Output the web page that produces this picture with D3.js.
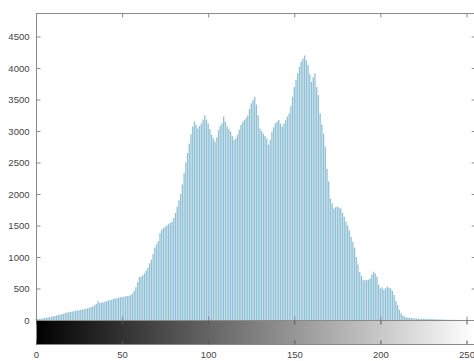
<!DOCTYPE html>
<html><head><meta charset="utf-8">
<script src="https://cdn.jsdelivr.net/npm/d3@7"></script>
<style>html,body{margin:0;padding:0;background:#fff;}svg{display:block;}</style>
</head><body>
<svg id="c" width="474" height="361"></svg>
<script>
// Histogram counts for gray levels 0..255
const counts = [
  12, 15, 18, 22, 26, 30, 35, 40, 46, 52,
  58, 65, 72, 80, 88, 92, 100, 110, 118, 124,
  128, 135, 140, 145, 150, 155, 160, 165, 170, 178,
  185, 195, 205, 215, 235, 255, 300, 270, 275, 280,
  290, 300, 310, 315, 320, 335, 345, 340, 355, 360,
  365, 370, 375, 380, 385, 395, 420, 460, 520, 600,
  680, 690, 710, 740, 780, 830, 900, 960, 1050, 1150,
  1200, 1250, 1380, 1430, 1460, 1480, 1500, 1520, 1540, 1560,
  1620, 1700, 1800, 1900, 2000, 2150, 2330, 2500, 2650, 2800,
  2950, 3070, 3150, 3100, 3040, 3080, 3120, 3180, 3250, 3180,
  3120, 3030, 2940, 2880, 2830, 2900, 3016, 3080, 3120, 3230,
  3150, 3070, 3030, 2990, 2920, 2860, 2880, 2940, 3020, 3095,
  3140, 3175, 3210, 3250, 3350, 3440, 3490, 3545, 3420, 3250,
  3040, 3000, 2960, 2920, 2880, 2780, 2860, 2990, 3060, 3120,
  3150, 3175, 3120, 3070, 3120, 3175, 3230, 3280, 3400, 3545,
  3700, 3810, 3920, 4020, 4100, 4150, 4200, 4120, 4050, 3900,
  3780, 3850, 3915, 3700, 3570, 3280, 3100, 2960, 2750, 2400,
  2200, 1930, 1850, 1770, 1790, 1800, 1785, 1770, 1700, 1640,
  1560, 1500, 1420, 1320, 1240, 1150, 1000, 880, 760, 700,
  640, 630, 635, 640, 660, 720, 767, 740, 690, 560,
  500, 520, 476, 510, 530, 510, 500, 460, 397, 300,
  238, 160, 106, 70, 52, 40, 37, 33, 30, 28,
  26, 24, 22, 20, 19, 18, 17, 16, 15, 14,
  13, 12, 11, 10, 9, 8, 7, 6, 5, 4,
  4, 3, 3, 2, 2, 2, 1, 1, 1, 1, 1, 0, 0, 0, 0, 0
];
const levels = d3.range(256);
const xTicks = [0, 50, 100, 150, 200, 250];
const yTicks = [0, 500, 1000, 1500, 2000, 2500, 3000, 3500, 4000, 4500];
const yMax = 4873;

const svg = d3.select("#c");
const L = 36, R = 36 + 255 * 1.722, T = 13, B = 320, CB = 344;
const x = d3.scaleLinear().domain([0, 255]).range([L, R]);
const y = d3.scaleLinear().domain([0, yMax]).range([B, T]);
const axisCol = "#8a8a8a", textCol = "#444";
const font = "Liberation Sans, Arial, sans-serif";
const fmt = d3.format("d");

// bars (stems)
svg.append("g").selectAll("rect").data(levels).join("rect")
  .attr("x", d => x(d) - 0.65)
  .attr("width", 1.3)
  .attr("y", d => y(counts[d]))
  .attr("height", d => B - y(counts[d]))
  .attr("fill", "#8fc0d5");

// main axes box
svg.append("rect").attr("x", L + 0.5).attr("y", T + 0.5)
  .attr("width", R - L).attr("height", B - T)
  .attr("fill", "none").attr("stroke", axisCol).attr("stroke-width", 1);

// y axis (left) with inward ticks
const yAxis = d3.axisLeft(y).tickValues(yTicks).tickFormat(fmt).tickSizeInner(-4).tickSizeOuter(0).tickPadding(7);
const gy = svg.append("g").attr("transform", `translate(${L + 0.5},0)`).call(yAxis);
gy.select(".domain").remove();
gy.selectAll("line").attr("stroke", axisCol);
gy.selectAll("text").attr("fill", textCol).style("font-family", font).style("font-size", "9.5px");

// right ticks
const gr = svg.append("g").attr("transform", `translate(${R + 0.5},0)`)
  .call(d3.axisRight(y).tickValues(yTicks).tickSizeInner(-4).tickSizeOuter(0).tickFormat(""));
gr.select(".domain").remove();
gr.selectAll("line").attr("stroke", axisCol);

// top ticks
const gt = svg.append("g").attr("transform", `translate(0,${T + 0.5})`)
  .call(d3.axisTop(x).tickValues(xTicks).tickSizeInner(-4).tickSizeOuter(0).tickFormat(""));
gt.select(".domain").remove();
gt.selectAll("line").attr("stroke", axisCol);

// bottom ticks of main axes
const gb = svg.append("g").attr("transform", `translate(0,${B + 0.5})`)
  .call(d3.axisBottom(x).tickValues(xTicks).tickSizeInner(-4).tickSizeOuter(0).tickFormat(""));
gb.select(".domain").remove();
gb.selectAll("line").attr("stroke", axisCol);

// grayscale colorbar
const defs = svg.append("defs");
const grad = defs.append("linearGradient").attr("id", "gray")
  .attr("gradientUnits", "userSpaceOnUse")
  .attr("x1", x(0)).attr("x2", x(255)).attr("y1", 0).attr("y2", 0);
grad.append("stop").attr("offset", "0%").attr("stop-color", "#000");
grad.append("stop").attr("offset", "100%").attr("stop-color", "#fff");
svg.append("rect").attr("x", L + 0.5).attr("y", B + 0.5)
  .attr("width", R - L).attr("height", CB - B)
  .attr("fill", "url(#gray)").attr("stroke", axisCol).attr("stroke-width", 1);

// colorbar ticks and labels
const gc = svg.append("g").attr("transform", `translate(0,${CB + 0.5})`)
  .call(d3.axisBottom(x).tickValues(xTicks).tickFormat(fmt).tickSizeInner(-4).tickSizeOuter(0).tickPadding(7));
gc.select(".domain").remove();
gc.selectAll("line").attr("stroke", "#555");
gc.selectAll("text").attr("fill", textCol).style("font-family", font).style("font-size", "9.5px");
const gc2 = svg.append("g").attr("transform", `translate(0,${B + 0.5})`)
  .call(d3.axisBottom(x).tickValues(xTicks).tickSizeInner(4).tickSizeOuter(0).tickFormat(""));
gc2.select(".domain").remove();
gc2.selectAll("line").attr("stroke", "#555");
</script>
</body></html>
